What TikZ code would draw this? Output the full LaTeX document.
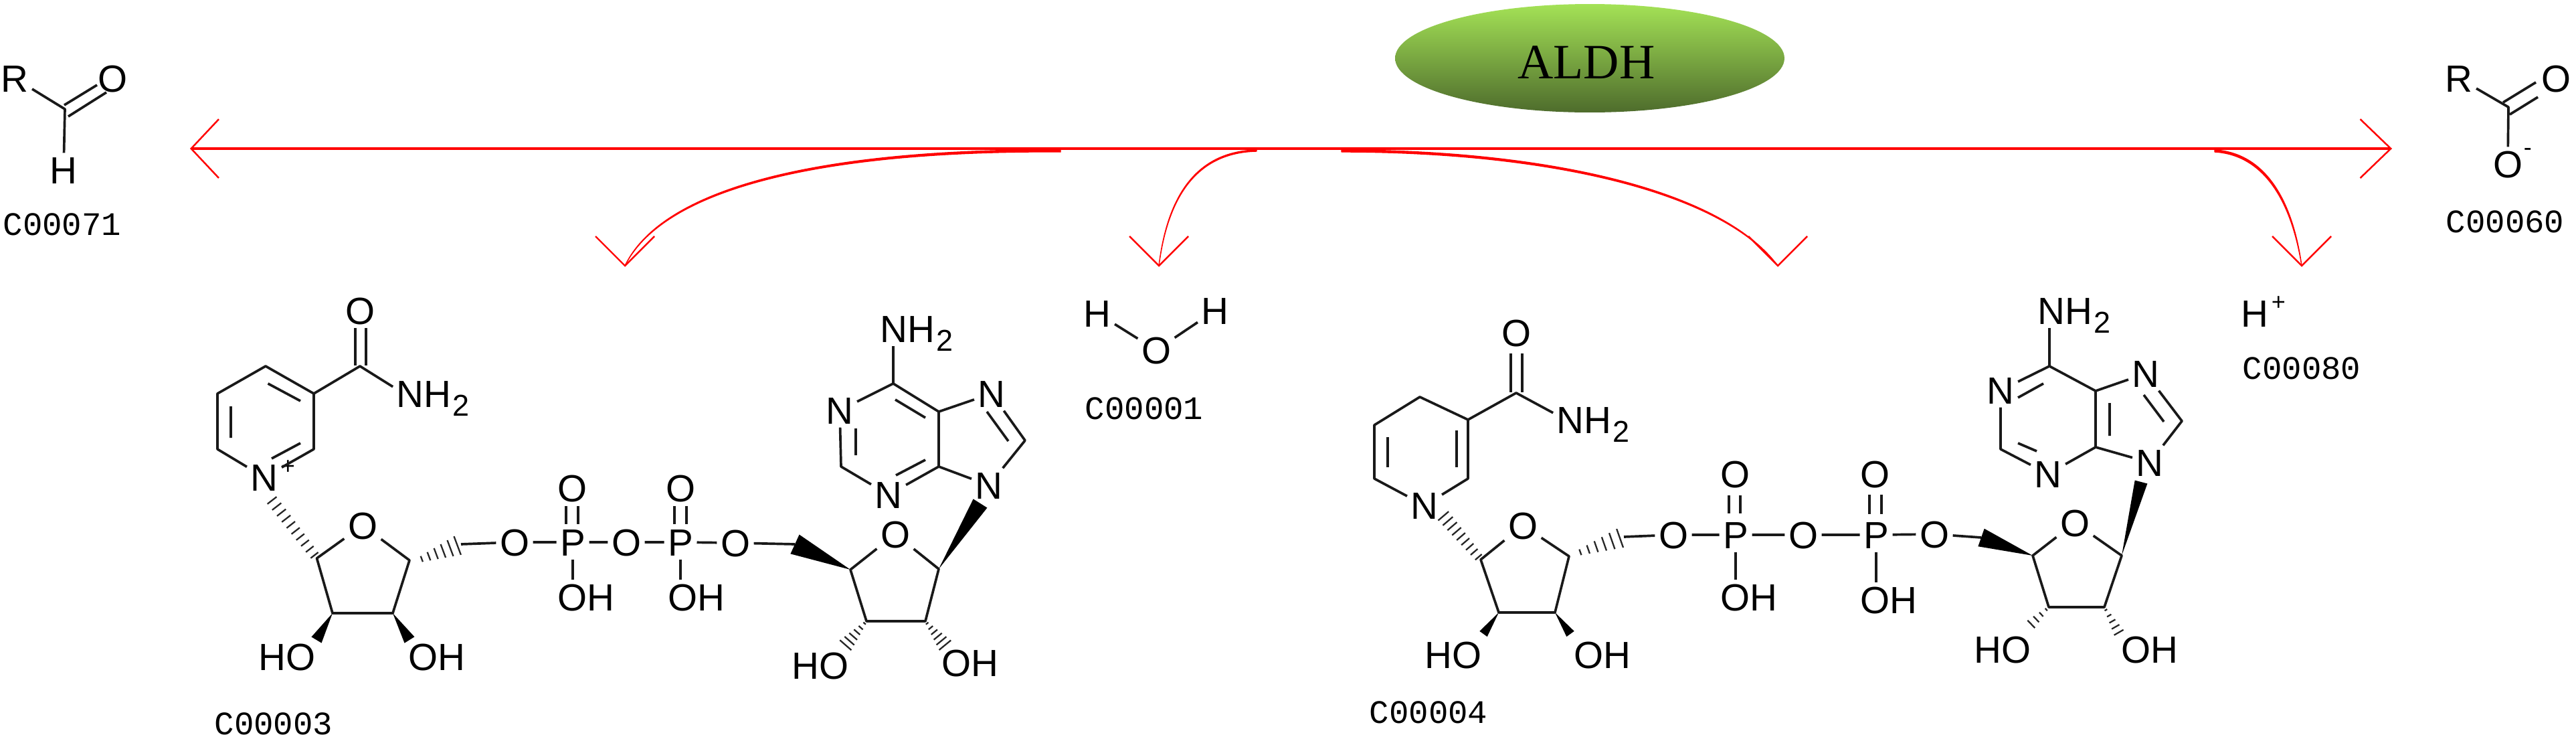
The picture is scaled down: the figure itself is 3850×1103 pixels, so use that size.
\documentclass[tikz,border=0pt]{standalone}
\usepackage{fontspec}
\setmainfont{Liberation Sans}
\newfontfamily\codefont{Liberation Mono}
\newfontfamily\enzfont{Liberation Serif}
\usetikzlibrary{calc,shapes.geometric,arrows.meta}
\newcommand\atomfont{\fontsize{32.2}{34}\selectfont}
\newcommand\subtwo{\kern1pt\smash{\raisebox{-7.4pt}{\fontsize{25.6}{26}\selectfont 2}}}
\newcommand\chgplus{\rlap{\kern2.5pt\raisebox{14pt}{\fontsize{20.5}{21}\selectfont +}}}
\newcommand\chgminus{\rlap{\kern1pt\raisebox{18.8pt}{\fontsize{20.5}{21}\selectfont -}}}
\newcommand\hashbond[5]{%
  \foreach \hbi in {1,...,#3}{%
    \pgfmathsetmacro\hbt{(\hbi-0.5)/#3}%
    \pgfmathsetmacro\hbw{#4+(#5-#4)*\hbt}%
    \draw[hashline] ($(#1)!\hbt!(#2)!\hbw pt!90:(#2)$) -- ($(#1)!\hbt!(#2)!\hbw pt!-90:(#2)$);
  }}
\newcommand\wedgebond[3]{\fill[black] (#1) -- ($(#2)!#3 pt!90:(#1)$) -- ($(#2)!#3 pt!-90:(#1)$) -- cycle;}
\newcommand\barbs[1]{\draw[barb] ($(#1)+(-44,-44)$) -- (#1) -- ($(#1)+(44,-44)$);}
\tikzset{
  atom/.style={inner sep=3pt,text height=22.8pt,text depth=0pt,font=\atomfont},
  code/.style={inner sep=0pt,font=\codefont\fontsize{27.9}{29}\selectfont},
  bond/.style={draw=black!90,line width=2.1pt,line join=round},
  hashline/.style={draw=black!85,line width=1.3pt},
  barb/.style={draw=red,line width=1.4pt,line join=miter},
  branch/.style={draw=red,fill=red,line width=.8pt,line join=round},
  mainline/.style={draw=red,line width=2.6pt,
    {Straight Barb[length=23.5pt,width=50pt,line width=1.4pt]}-{Straight Barb[length=26pt,width=50pt,line width=1.4pt]}},
  enzyme/.style={ellipse,inner sep=0pt,minimum width=11.64cm,minimum height=3.24cm,
    top color=enzTop,bottom color=enzBot,draw=none},
}
\definecolor{enzTop}{RGB}{164,226,86}
\definecolor{enzBot}{RGB}{78,108,44}
\begin{document}
\begin{tikzpicture}[x=0.02cm,y=-0.02cm]
\useasboundingbox (0,0) rectangle (3850,1103);
\fill[white] (0,0) rectangle (3850,1103);

% enzyme
\node[enzyme,label={[shift={(-5,6)},font=\enzfont\fontsize{42}{44}\selectfont,inner sep=0pt]center:ALDH}] (aldh) at (2376,87) {};

% reaction arrows
\coordinate (mL) at (284,222);
\coordinate (mR) at (3575,222);
\coordinate (s1) at (1585,224); \coordinate (t1) at (934,397);
\coordinate (s2) at (1878,224); \coordinate (t2) at (1732,397);
\coordinate (s3) at (2005,224); \coordinate (t3) at (2657,397);
\coordinate (s4) at (3310,224); \coordinate (t4) at (3440,397);
\draw[branch] (s1) .. controls (1300,222) and (1000,260) .. (t1) .. controls (1002,262) and (1300,225) .. ($(s1)+(0,3)$) -- cycle;
\draw[branch] (s2) .. controls (1790,226) and (1745,290) .. (t2) .. controls (1746,290) and (1791,228) .. ($(s2)+(0,2)$) -- cycle;
\draw[branch] (s3) .. controls (2300,224) and (2570,280) .. (t3) .. controls (2568,282) and (2300,227) .. ($(s3)+(0,3)$) -- cycle;
\draw[branch] (s4) .. controls (3380,228) and (3425,290) .. (t4) .. controls (3423,291) and (3378,231) .. ($(s4)+(0,3)$) -- cycle;
\draw[mainline] (mL) -- (mR);
\barbs{t1}\barbs{t2}\barbs{t3}\barbs{t4}

% aldehyde C00071
\node[atom] (alR) at (22,117) {R};
\node[atom] (alO) at (169,117) {O};
\node[atom] (alH) at (95,254) {H};
\coordinate (alC) at (97,163);
\draw[bond] (alR) -- (alC) -- (alH);
\draw[bond] (96,157) -- (145,127);
\draw[bond] (102,174) -- (159,138);
\node[code] (cd71) at (93,335) {C00071};

% carboxylate C00060
\node[atom] (cxR) at (3675,117) {R};
\node[atom] (cxO) at (3820,117) {O};
\node[atom] (cxM) at (3748,245) {O\chgminus};
\coordinate (cxC) at (3749,160);
\draw[bond] (cxR) -- (cxC) -- (cxM);
\draw[bond] (3741,153) -- (3790,123);
\draw[bond] (3751,171) -- (3793,145);
\node[code] (cd60) at (3744,331) {C00060};

% water
\node[atom] (wH1) at (1640,468) {H};
\node[atom] (wH2) at (1816,464) {H};
\node[atom] (wO) at (1728,523) {O};
\draw[bond] (wH1) -- (wO) -- (wH2);
\node[code] (cd01) at (1710,610) {C00001};

% proton
\node[atom] (hp) at (3370,468) {H\chgplus};
\node[code] (cd80) at (3440,550) {C00080};

%%%%%%%%%%%%%%%% NAD+ C00003
\node[atom] (aOc) at (538,464) {O};
\node[atom] (aNH) at (647,588) {NH\subtwo};
\coordinate (aCc) at (538,547);
\coordinate (aC3) at (469,588);
\coordinate (aC4) at (397,547);
\coordinate (aC5) at (325,588);
\coordinate (aC6) at (325,671);
\coordinate (aC2) at (469,671);
\node[atom] (aN) at (395,713) {N\chgplus};
\draw[bond] (531,490) -- (531,546) (547,490) -- (547,546);
\draw[bond] (aC3) -- (aCc) -- ($(aNH.north west)!.3!(aNH.south west)$);
\draw[bond] (aN) -- (aC6) -- (aC5) -- (aC4) -- (aC3) -- (aC2) -- (aN);
\draw[bond] (400.5,573) -- (449,599) (345,607) -- (345,654) (449,662) -- (406,685);
% ribose
\node[atom] (aOr) at (542,785) {O};
\coordinate (aR1) at (473.5,834);
\coordinate (aR2) at (497,916);
\coordinate (aR3) at (587,916);
\coordinate (aR4) at (612,837);
\draw[bond] (aOr) -- (aR1) -- (aR2) -- (aR3) -- (aR4) -- (aOr);
\coordinate (aHs) at (403,743);
\hashbond{aHs}{aR1}{10}{5}{4}
\coordinate (aR4b) at (625,837);
\coordinate (aR5) at (689,813);
\hashbond{aR4b}{aR5}{6}{2}{9}
\node[atom] (aHO) at (429,981) {HO};
\node[atom] (aOH) at (653,981) {OH};
\coordinate (aW2) at (473,956);
\coordinate (aW3) at (612,956);
\wedgebond{aR2}{aW2}{5}
\wedgebond{aR3}{aW3}{5}
% phosphates
\node[atom] (aO5) at (769,810) {O};
\node[atom] (aP1) at (856,810) {P};
\node[atom] (aOb) at (936,810) {O};
\node[atom] (aP2) at (1017,810) {P};
\node[atom] (aO6) at (1099,811) {O};
\node[atom] (aOt1) at (855,729) {O};
\node[atom] (aOt2) at (1017,729) {O};
\node[atom] (aOH1) at (876,892) {OH};
\node[atom] (aOH2) at (1041,892) {OH};
\draw[bond] (aR5) -- (aO5) -- (aP1) -- (aOb) -- (aP2) -- (aO6);
\draw[bond] (846,756) -- (846,783) (864,756) -- (864,783);
\draw[bond] (1008,756) -- (1008,783) (1026,756) -- (1026,783);
\draw[bond] (aP1) -- (aP1 |- aOH1.north);
\draw[bond] (aP2) -- (aP2 |- aOH2.north);
% second ribose
\coordinate (aE5) at (1188,813);
\node[atom] (aOr2) at (1338,798) {O};
\coordinate (aS1) at (1403,850);
\coordinate (aS2) at (1383,928);
\coordinate (aS3) at (1295,928);
\coordinate (aS4) at (1271,851);
\draw[bond] (aO6) -- (aE5);
\wedgebond{aS4}{aE5}{9}
\draw[bond] (aOr2) -- (aS1) -- (aS2) -- (aS3) -- (aS4) -- (aOr2);
\node[atom] (aHO2) at (1226,994) {HO};
\node[atom] (aOH3) at (1450,990) {OH};
\coordinate (aH3) at (1261,967);
\coordinate (aH2) at (1415,967);
\hashbond{aS3}{aH3}{6}{0.8}{7}
\hashbond{aS2}{aH2}{6}{0.8}{7}
% adenine
\node[atom] (aN9) at (1478,725) {N};
\node[atom] (aN7) at (1482,588) {N};
\node[atom] (aN1) at (1255,613) {N};
\node[atom] (aN3) at (1328,739) {N};
\node[atom] (aNH6) at (1370,491) {NH\subtwo};
\coordinate (aA8) at (1532,658);
\coordinate (aA5) at (1403,615);
\coordinate (aA4) at (1403,697);
\coordinate (aA6) at (1335,573);
\coordinate (aA2) at (1257,697);
\coordinate (aW9) at (1465,752);
\wedgebond{aS1}{aW9}{7}
\draw[bond] (aA6) -- (aA6 |- aNH6.south);
\draw[bond] (aN1) -- (aA6) -- (aA5) -- (aN7) -- (aA8) -- (aN9) -- (aA4) -- (aA5);
\draw[bond] (aA4) -- (aN3) -- (aA2) -- (aN1);
\draw[bond] (1338,597) -- (1383,624) (1475,615) -- (1507,659) (1383,687) -- (1339,710) (1279,640) -- (1279,680);
\node[code] (cd03) at (409,1081) {C00003};

%%%%%%%%%%%%%%%% NADH C00004
\node[atom] (bOc) at (2266,497) {O};
\node[atom] (bNH) at (2381,627) {NH\subtwo};
\coordinate (bCc) at (2266,587);
\coordinate (bC3) at (2194,627);
\coordinate (bC4) at (2122,593);
\coordinate (bC5) at (2054,635);
\coordinate (bC6) at (2054,715);
\coordinate (bC2) at (2194,715);
\node[atom] (bN) at (2129,755) {N};
\draw[bond] (2258,528) -- (2258,586) (2275,528) -- (2275,586);
\draw[bond] (bC3) -- (bCc) -- ($(bNH.north west)!.3!(bNH.south west)$);
\draw[bond] (bN) -- (bC6) -- (bC5) -- (bC4) -- (bC3) -- (bC2) -- (bN);
\draw[bond] (2074,653) -- (2074,698) (2177,643) -- (2177,698);
\node[atom] (bOr) at (2276,785) {O};
\coordinate (bR1) at (2213,836);
\coordinate (bR2) at (2240,915);
\coordinate (bR3) at (2324,915);
\coordinate (bR4) at (2345,831);
\draw[bond] (bOr) -- (bR1) -- (bR2) -- (bR3) -- (bR4) -- (bOr);
\coordinate (bHs) at (2154,767);
\hashbond{bHs}{bR1}{9}{6}{3.5}
\coordinate (bR4b) at (2356,827);
\coordinate (bR5) at (2427,802);
\hashbond{bR4b}{bR5}{6}{2}{9}
\node[atom] (bHO) at (2172,978) {HO};
\node[atom] (bOH) at (2395,978) {OH};
\coordinate (bW2) at (2217,947);
\coordinate (bW3) at (2347,947);
\wedgebond{bR2}{bW2}{4}
\wedgebond{bR3}{bW3}{4}
\node[atom] (bO5) at (2501,799) {O};
\node[atom] (bP1) at (2594,799) {P};
\node[atom] (bOb) at (2695,799) {O};
\node[atom] (bP2) at (2804,799) {P};
\node[atom] (bO6) at (2891,798) {O};
\node[atom] (bOt1) at (2593,708) {O};
\node[atom] (bOt2) at (2802,708) {O};
\node[atom] (bOH1) at (2614,892) {OH};
\node[atom] (bOH2) at (2823,896) {OH};
\draw[bond] (bR5) -- (bO5) -- (bP1) -- (bOb) -- (bP2) -- (bO6);
\draw[bond] (2584,740) -- (2584,767) (2601,740) -- (2601,767);
\draw[bond] (2794,739) -- (2794,768) (2812,739) -- (2812,768);
\draw[bond] (bP1) -- (bP1 |- bOH1.north);
\draw[bond] (bP2) -- (bP2 |- bOH2.north);
\coordinate (bE5) at (2961,803);
\node[atom] (bOr2) at (3101,781) {O};
\coordinate (bS1) at (3171,830);
\coordinate (bS2) at (3145,907);
\coordinate (bS3) at (3062,907);
\coordinate (bS4) at (3038,830);
\draw[bond] (bO6) -- (bE5);
\wedgebond{bS4}{bE5}{8}
\draw[bond] (bOr2) -- (bS1) -- (bS2) -- (bS3) -- (bS4) -- (bOr2);
\node[atom] (bHO2) at (2993,970) {HO};
\node[atom] (bOH3) at (3213,970) {OH};
\coordinate (bH3) at (3032,936);
\coordinate (bH2) at (3169,949);
\hashbond{bS3}{bH3}{4}{0.8}{5}
\hashbond{bS2}{bH2}{5}{0.8}{5}
\node[atom] (bN9) at (3213,691) {N};
\node[atom] (bN7) at (3207,558) {N};
\node[atom] (bN1) at (2990,583) {N};
\node[atom] (bN3) at (3061,708) {N};
\node[atom] (bNH6) at (3100,464) {NH\subtwo};
\coordinate (bA8) at (3261,629);
\coordinate (bA5) at (3132,584);
\coordinate (bA4) at (3132,668);
\coordinate (bA6) at (3063,547);
\coordinate (bA2) at (2990,671);
\coordinate (bW9) at (3200,720);
\wedgebond{bS1}{bW9}{5.5}
\draw[bond] (bA6) -- (bA6 |- bNH6.south);
\draw[bond] (bN1) -- (bA6) -- (bA5) -- (bN7) -- (bA8) -- (bN9) -- (bA4) -- (bA5);
\draw[bond] (bA4) -- (bN3) -- (bA2) -- (bN1);
\draw[bond] (3054,573) -- (3016,594) (3204,590) -- (3234,630) (3153,602) -- (3153,651) (3016,662) -- (3044,674);
\node[code] (cd04) at (2135,1064) {C00004};
\end{tikzpicture}
\end{document}
